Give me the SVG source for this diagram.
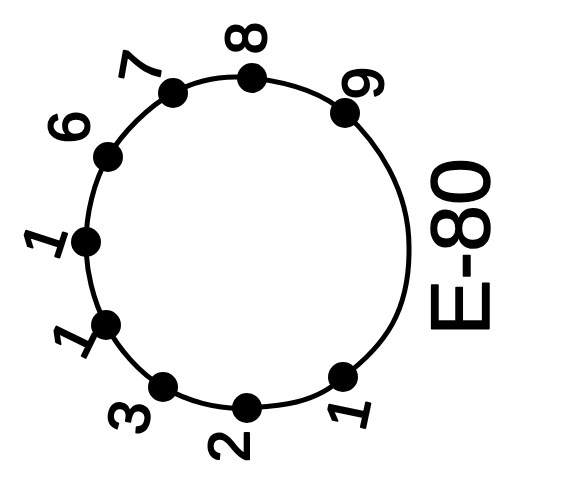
<svg xmlns="http://www.w3.org/2000/svg" width="575" height="502" viewBox="0 0 575 502">
<style>
.bg{fill:#fff}
.ring{fill:none;stroke:#000;stroke-width:5;stroke-linejoin:round}
.dot{fill:#000}
.lbl{font-family:"Liberation Sans",Arial,sans-serif;font-size:58px;fill:#000;stroke:#000;stroke-width:2;stroke-linejoin:round;text-anchor:middle}
.title{font-family:"Liberation Sans",Arial,sans-serif;font-size:84px;fill:#000;stroke:#000;stroke-width:1.5;stroke-linejoin:round;text-anchor:middle}
</style>
<rect class="bg" x="0" y="0" width="575" height="502"/>
<g id="connectors">
<path class="ring" d="M252,78 C280.7,81.3 319,89 345,113 C378,143 409,190 409,247 C410,310 386,345 343,377 C316.2,404.2 277,406.3 247,408 C217,409.7 186.5,400.8 163,387 C139.5,373.2 118.8,349.2 106,325 C93.2,300.8 85.7,270 86,242 C86.3,214 93.5,181.8 108,157 C122.5,132.2 149,106.2 173,93 C197,79.8 223.3,74.7 252,78 Z"/>
</g>
<g id="node-8"><circle class="dot" cx="252" cy="78" r="15"/><text class="lbl" transform="translate(245,38) rotate(-90)" y="21">8</text></g>
<g id="node-9"><circle class="dot" cx="345" cy="113" r="15"/><text class="lbl" transform="translate(362,83) rotate(-90)" y="21">9</text></g>
<g id="node-1c"><circle class="dot" cx="343" cy="377" r="15"/><text class="lbl" transform="translate(347,412) rotate(-78)" y="21">1</text></g>
<g id="node-2"><circle class="dot" cx="247" cy="408" r="15"/><text class="lbl" transform="translate(228,446) rotate(-90)" y="21">2</text></g>
<g id="node-3"><circle class="dot" cx="163" cy="387" r="15"/><text class="lbl" transform="translate(128,417) rotate(-80)" y="21">3</text></g>
<g id="node-1b"><circle class="dot" cx="106" cy="325" r="15"/><text class="lbl" transform="translate(72,338) rotate(-64)" y="21">1</text></g>
<g id="node-1a"><circle class="dot" cx="86" cy="242" r="15"/><text class="lbl" transform="translate(43,240) rotate(-72)" y="21">1</text></g>
<g id="node-6"><circle class="dot" cx="108" cy="157" r="15"/><text class="lbl" transform="translate(68,127) rotate(-90)" y="21">6</text></g>
<g id="node-7"><circle class="dot" cx="173" cy="93" r="15"/><text class="lbl" transform="translate(140,67) rotate(-80)" y="21">7</text></g>
<g id="title"><text class="title" transform="translate(489,247) rotate(-90)">E-80</text></g>
</svg>
